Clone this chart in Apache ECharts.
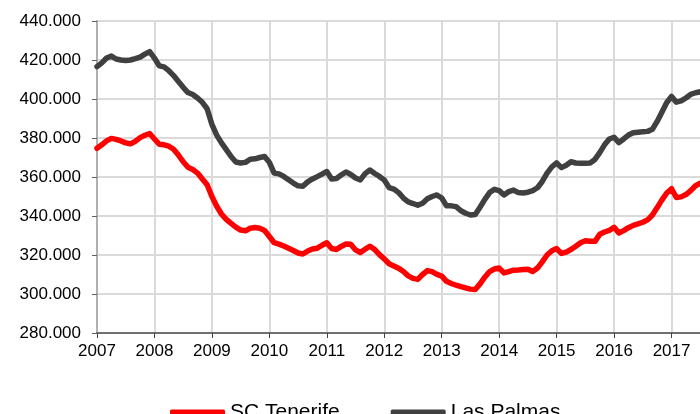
<!DOCTYPE html>
<html>
<head>
<meta charset="utf-8">
<script src="https://cdn.jsdelivr.net/npm/echarts@6/dist/echarts.min.js"></script>
<style>
html,body{margin:0;padding:0;background:#fff;}
#c{width:700px;height:414px;}
</style>
</head>
<body>
<div id="c"></div>
<script>
// Monthly values (thousands), starting January 2007
const startYear = 2007;
const seriesNames = ["SC Tenerife", "Las Palmas"];
const tenerife = [
 374.7,376.5,378.5,379.8,379.3,378.5,377.5,377.0,378.3,380.2,381.4,382.3,
 379.5,376.8,376.5,375.8,374.2,371.3,367.8,365.0,363.8,362.0,359.0,356.0,
 350.0,345.0,341.0,338.3,336.2,334.3,332.8,332.4,333.7,334.1,333.7,332.6,
 329.5,326.3,325.6,324.6,323.5,322.3,321.0,320.5,322.0,323.1,323.5,325.0,
 326.3,323.3,322.8,324.4,325.6,325.5,322.6,321.3,323.0,324.5,322.8,320.2,
 318.0,315.5,314.4,313.2,311.5,309.3,308.0,307.5,310.0,312.0,311.5,310.1,
 309.2,306.5,305.4,304.5,303.8,303.1,302.5,302.3,305.2,308.6,311.5,312.8,
 313.3,310.8,311.5,312.2,312.3,312.6,312.7,311.5,313.3,316.5,320.0,322.2,
 323.3,320.8,321.5,322.8,324.5,326.3,327.3,327.0,327.0,330.6,331.8,332.6,
 334.2,331.3,332.5,334.0,335.2,336.0,336.8,338.0,340.5,344.3,348.3,351.8,
 354.0,349.5,349.8,351.0,353.0,355.5,356.8,357.5
];
const lasPalmas = [
 416.6,418.5,421.0,422.0,420.5,420.0,419.7,420.0,420.7,421.5,423.0,424.3,
 421.0,417.0,416.5,414.5,412.0,409.0,406.0,403.3,402.3,400.5,398.3,395.0,
 387.0,381.5,377.5,374.0,370.5,367.7,367.2,367.5,369.1,369.3,370.0,370.5,
 367.5,362.0,361.6,360.3,358.6,356.9,355.5,355.2,357.5,359.0,360.2,361.5,
 362.8,359.0,359.2,361.0,362.6,361.3,359.5,358.5,361.7,363.6,361.8,360.3,
 358.5,354.6,353.8,352.0,349.2,347.2,346.4,345.5,346.5,348.8,350.0,350.8,
 349.2,345.2,345.2,344.8,342.7,341.4,340.5,340.8,344.5,348.5,352.0,353.7,
 353.0,350.8,352.5,353.3,352.0,351.8,352.2,353.0,354.5,357.7,362.0,365.2,
 367.2,364.8,366.0,367.8,367.2,367.0,367.0,367.2,369.0,372.5,376.5,379.5,
 380.4,377.6,379.5,381.5,382.7,383.0,383.2,383.4,384.5,388.5,393.3,398.2,
 401.3,398.4,399.0,400.5,402.4,403.2,403.7,404.0
];
const colors = ["#ff0000", "#404040"];

function toPairs(arr){ return arr.map((v,i)=>[startYear + i/12, v]); }

const chart = echarts.init(document.getElementById('c'), null, {renderer:'canvas'});
const font = "'Liberation Sans', Arial, sans-serif";
chart.setOption({
  animation:false,
  backgroundColor:'#fff',
  grid:{left:97, top:21, bottom:81, right:-29, containLabel:false, outerBoundsMode:'none'},
  legend:{
    data:seriesNames,
    left:165, top:397,
    icon:'roundRect',
    itemWidth:55, itemHeight:6, itemGap:51,
    textStyle:{fontFamily:font, fontSize:21, color:'#000'}
  },
  xAxis:{
    type:'value', min:2007, max:2018, interval:1,
    axisLine:{show:true, lineStyle:{color:'#707070', width:2}},
    axisTick:{show:true, length:5, lineStyle:{color:'#404040', width:1}},
    axisLabel:{formatter:v=>String(v), fontFamily:font, fontSize:17, color:'#000', margin:10},
    splitLine:{show:true, lineStyle:{color:'#dadada', width:2}}
  },
  yAxis:{
    type:'value', min:280, max:440, interval:20,
    axisLine:{show:true, lineStyle:{color:'#b0b0b0', width:2}},
    axisTick:{show:true, length:5, lineStyle:{color:'#606060', width:1}},
    axisLabel:{formatter:v=>v.toFixed(3), fontFamily:font, fontSize:17, color:'#000', margin:16},
    splitLine:{show:true, lineStyle:{color:'#dadada', width:2}}
  },
  series:[
    {name:seriesNames[0], type:'line', data:toPairs(tenerife), showSymbol:false, symbol:'none',
     lineStyle:{color:colors[0], width:5.5, join:'round', cap:'round'}, itemStyle:{color:colors[0]}},
    {name:seriesNames[1], type:'line', data:toPairs(lasPalmas), showSymbol:false, symbol:'none',
     lineStyle:{color:colors[1], width:5.5, join:'round', cap:'round'}, itemStyle:{color:colors[1]}}
  ]
});
</script>
</body>
</html>
